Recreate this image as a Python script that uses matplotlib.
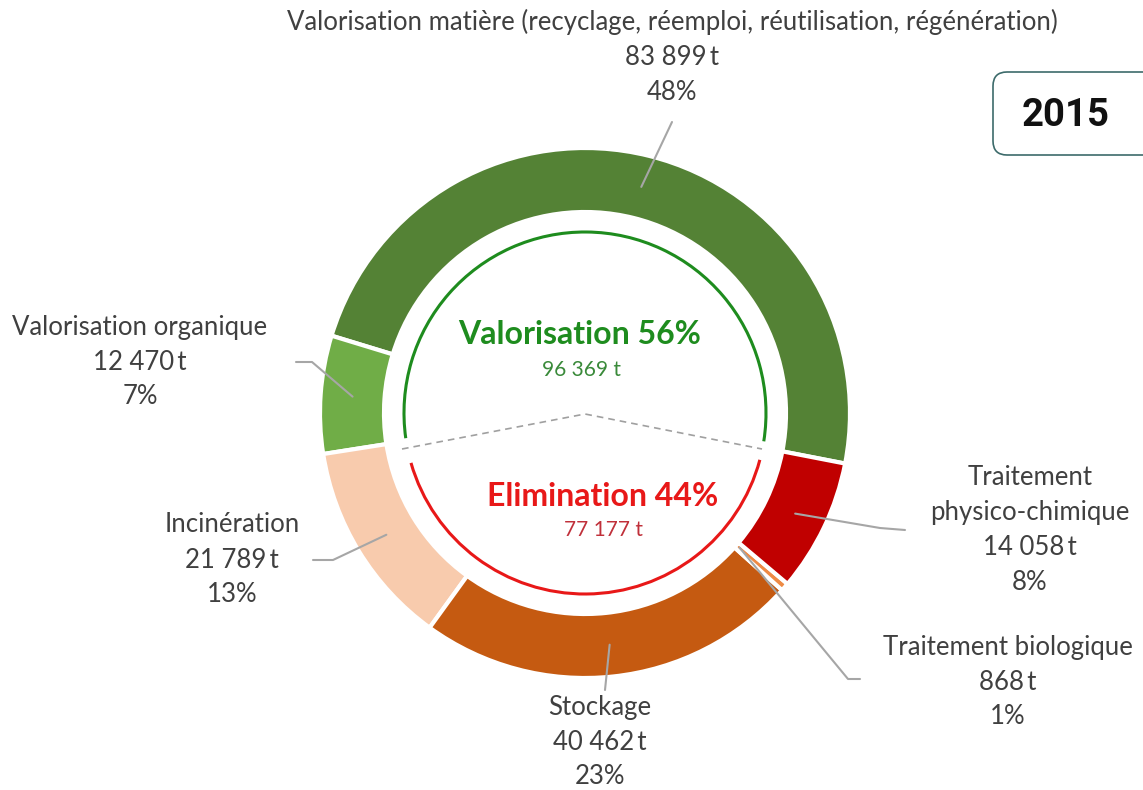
import numpy as np
import matplotlib
matplotlib.use("Agg")
import matplotlib.pyplot as plt
from matplotlib.patches import Arc, FancyBboxPatch

# ---- data ----
label_names = ["Valorisation matière (recyclage, réemploi, réutilisation, régénération)",
               "Valorisation organique", "Incinération", "Stockage",
               "Traitement biologique", "Traitement\nphysico-chimique"]
tonnes = [83899, 12470, 21789, 40462, 868, 14058]
tonnes_txt = ["83 899\u2009t", "12 470\u2009t", "21 789\u2009t", "40 462\u2009t",
              "868\u2009t", "14 058\u2009t"]
percents = ["48%", "7%", "13%", "23%", "1%", "8%"]
colors = ["#548235", "#70AD47", "#F8CBAD", "#C55A11", "#EE8A45", "#C00000"]
groups = ["Valorisation 56%", "Elimination 44%"]
group_tonnes = ["96 369 t", "77 177 t"]
year = "2015"

W, H = 1143, 790
fig = plt.figure(figsize=(W / 100, H / 100), dpi=100)
ax = fig.add_axes([0, 0, 1, 1])

def Y(y):
    return H - y

cx, cy = 585, 413
R, ring_w = 265, 64
start = -11.0

ax.pie(tonnes, colors=colors, startangle=start, counterclock=True,
       radius=R, center=(cx, Y(cy)),
       wedgeprops=dict(width=ring_w, edgecolor="white", linewidth=3))
ax.set_xlim(0, W)
ax.set_ylim(0, H)
ax.set_aspect("equal")
ax.axis("off")

# mid angles from data
fr = np.array(tonnes) / np.sum(tonnes)
edges = start + 360 * np.concatenate([[0], np.cumsum(fr)])
mids = (edges[:-1] + edges[1:]) / 2

def pt(angle, r):
    a = np.deg2rad(angle)
    return cx + r * np.cos(a), Y(cy) + r * np.sin(a)

lead_r = [233, 233, 233, 233, 205, 233]
# elbow / end points (pixel coords)
lead_path = [
    [(672, 122)],
    [(312, 362), (296, 362)],
    [(333, 560), (313, 560)],
    [(605, 690)],
    [(848, 679), (860, 679)],
    [(880, 528), (905, 530)],
]
lc = "#A6A6A6"
for i in range(len(tonnes)):
    x0, y0 = pt(mids[i], lead_r[i])
    xs = [x0] + [p[0] for p in lead_path[i]]
    ys = [y0] + [Y(p[1]) for p in lead_path[i]]
    ax.plot(xs, ys, color=lc, lw=1.5, solid_capstyle="round", zorder=3)

# labels
label_pos = [(672, 57), (140, 362), (232, 560), (600, 742), (1008, 682), (1030, 530)]
tc = "#404040"
fam = ["Lato", "DejaVu Sans"]
for i in range(len(tonnes)):
    txt = label_names[i] + "\n" + tonnes_txt[i] + "\n" + percents[i]
    x, y = label_pos[i]
    ax.text(x, Y(y), txt, ha="center", va="center", multialignment="center",
            fontsize=18.5, color=tc, family=fam, linespacing=1.5)

# inner arcs
ar = 181
ax.add_patch(Arc((cx, Y(cy)), 2 * ar, 2 * ar, theta1=-9, theta2=188,
                 color="#1E8C1E", lw=2.2))
ax.add_patch(Arc((cx, Y(cy)), 2 * ar, 2 * ar, theta1=196, theta2=345,
                 color="#E81818", lw=2.2))
ax.plot([402, 585, 762], [Y(449), Y(414), Y(449)], color="#A0A0A0", lw=1.2,
        ls=(0, (4, 3)))

# group texts
ax.text(580, Y(335), groups[0], ha="center", va="center", fontsize=23,
        fontweight="bold", color="#1E8C1E", family=fam)
ax.text(581, Y(370), group_tonnes[0], ha="center", va="center", fontsize=15,
        color="#3A8A3A", family=fam)
ax.text(603, Y(496), groups[1], ha="center", va="center", fontsize=23,
        fontweight="bold", color="#E81818", family=fam)
ax.text(603, Y(530), group_tonnes[1], ha="center", va="center", fontsize=15,
        color="#C0303A", family=fam)

# year box
box = FancyBboxPatch((993, Y(155)), 170, 83,
                     boxstyle="round,pad=0,rounding_size=14",
                     fc="white", ec="#3D6B6B", lw=1.2, clip_on=False)
ax.add_patch(box)
ax.text(1066, Y(116), year, ha="center", va="center", fontsize=27.5,
        fontweight="bold", color="#111111", family=["Roboto", "DejaVu Sans"])

fig.savefig("out.png", dpi=100)
